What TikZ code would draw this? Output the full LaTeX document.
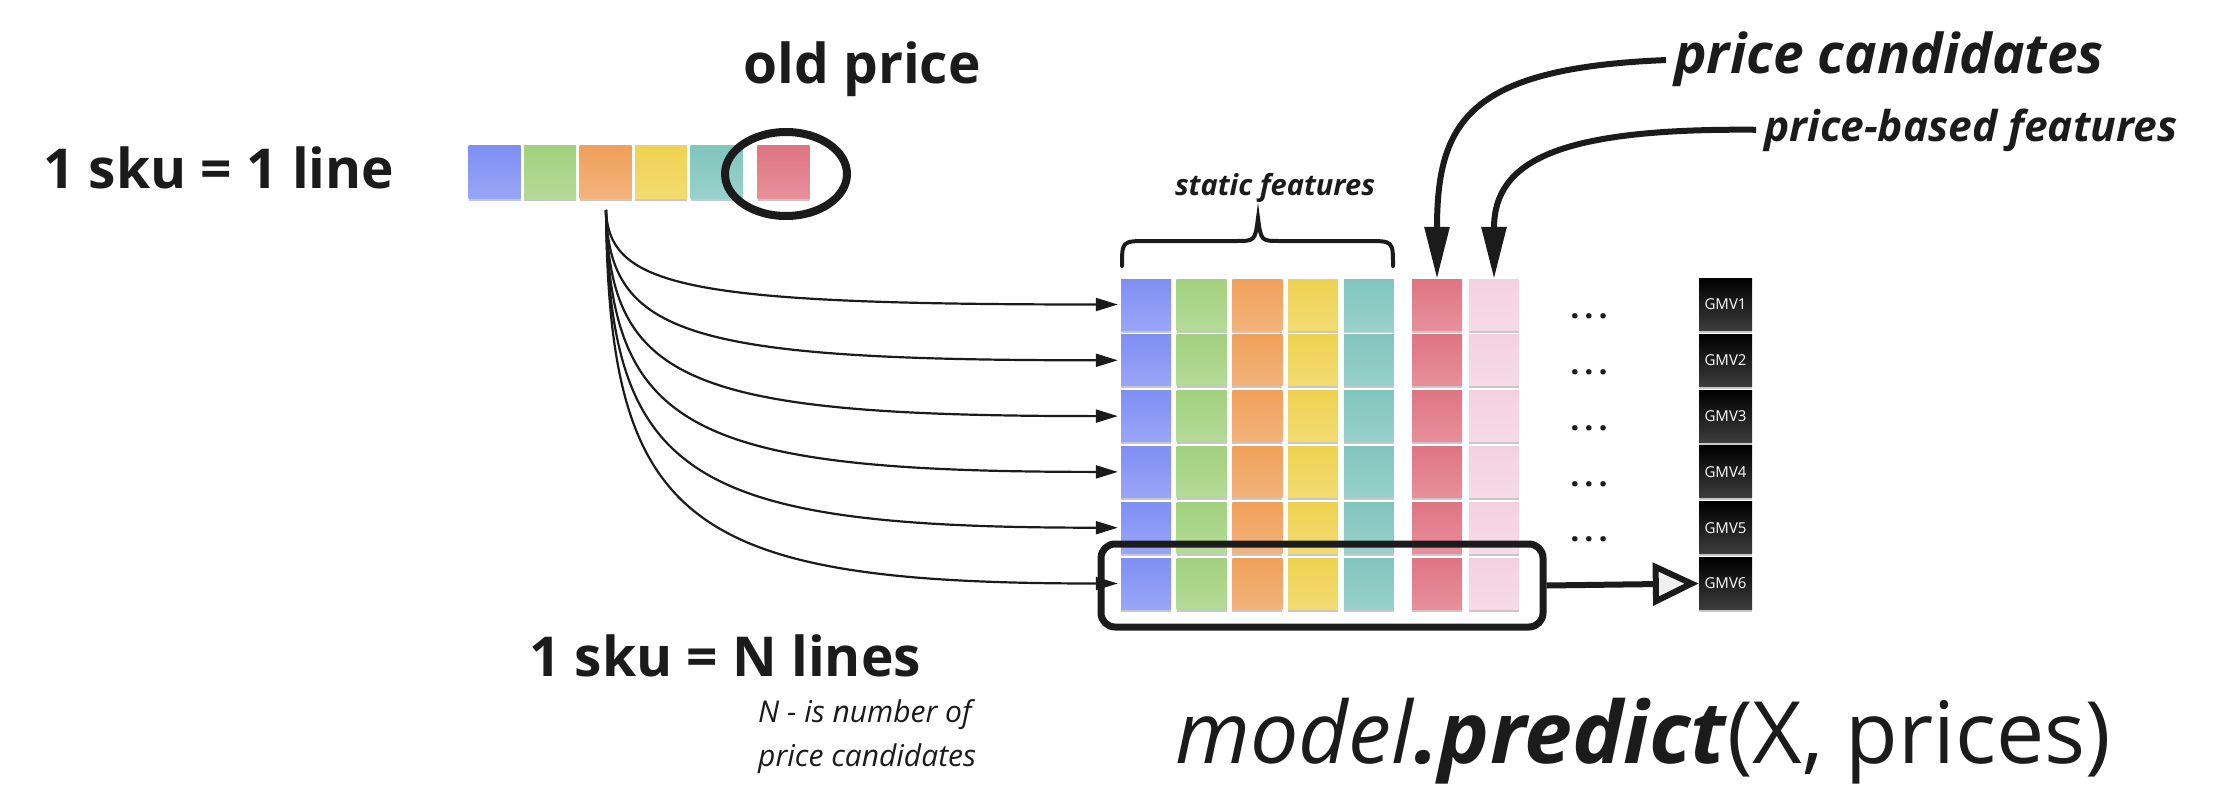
\documentclass[tikz,border=0pt]{standalone}
\usepackage{fontspec}
\setmainfont{Open Sans}
\usetikzlibrary{arrows.meta}
\usetikzlibrary{shadows}

\definecolor{nblue}{HTML}{7F8FF4}
\definecolor{ngreen}{HTML}{A2D17E}
\definecolor{norange}{HTML}{F0A05A}
\definecolor{nyellow}{HTML}{EFD250}
\definecolor{nteal}{HTML}{80C5BE}
\definecolor{nred}{HTML}{E07483}
\definecolor{npink}{HTML}{F5D1E0}
\definecolor{ink}{HTML}{1B1B1B}

\tikzset{
  note/.style={minimum width=50pt, minimum height=51pt, inner sep=0pt,
    top color=#1, bottom color=#1!80!white,
    drop shadow={shadow xshift=0pt, shadow yshift=-2.5pt, opacity=0.22, fill=black}},
  gmv/.style={minimum width=53pt, minimum height=52pt, inner sep=0pt,
    top color=black, bottom color=ink!85!white, text=white,
    font=\fontsize{15}{17}\selectfont,
    drop shadow={shadow xshift=0pt, shadow yshift=-2.5pt, opacity=0.22, fill=black}},
  head/.style={inner sep=0pt, text=ink, font=\fontsize{55}{60}\selectfont\bfseries},
  tag/.style={inner sep=0pt, text=ink, font=\fontsize{#1}{#1}\selectfont\bfseries\itshape},
  feed/.style={draw=ink, line width=2.2pt, shorten >=3pt,
    -{Triangle[length=22pt,width=13pt]}},
  pointer/.style={draw=ink, line width=6pt, shorten <=8pt,
    -{Triangle[length=52pt,width=24pt]}},
}

\begin{document}
\begin{tikzpicture}[x=1pt, y=-1pt]

  \useasboundingbox (0,0) rectangle (2234,800);

  % one line per sku
  \node[head, anchor=base west] (one) at (43,188) {1 sku = 1 line};
  \node[head, anchor=base] (old) at (862,84) {old price};

  \foreach \cl/\col in {1/nblue,2/ngreen,3/norange,4/nyellow,5/nteal}
    \node[note=\col, minimum width=52pt, minimum height=53pt] (top\cl)
      at ({494.5+55.5*(\cl-1)},171.5) {};
  \node[note=nred, minimum width=52pt, minimum height=53pt] (top6) at (783.5,171.5) {};
  \draw[ink, line width=8pt] (786,174) ellipse [x radius=61, y radius=42];

  % N lines per sku
  \foreach \rw in {1,...,6} {
    \foreach \cl/\col in {1/nblue,2/ngreen,3/norange,4/nyellow,5/nteal}
      \node[note=\col] (m\rw-\cl) at ({1146+55.7*(\cl-1)},{304.5+55.8*(\rw-1)}) {};
    \node[note=nred] (m\rw-6) at (1437,{304.5+55.8*(\rw-1)}) {};
    \node[note=npink] (m\rw-7) at (1494,{304.5+55.8*(\rw-1)}) {};
    \node[gmv] (g\rw) at (1725.5,{304.5+55.8*(\rw-1)}) {GMV\rw};
  }
  \foreach \rw in {1,...,5}
    \node[inner sep=0pt, text=ink, font=\fontsize{32}{32}\selectfont\bfseries]
      (dots\rw) at (1589,{316.5+55.8*(\rw-1)}) {.\hspace{5pt}.\hspace{5pt}.};

  \coordinate (src) at (606,210);
  \foreach \rw/\d in {1/77,2/125,3/172,4/219,5/267,6/314}
    \draw[feed] (src) .. controls +(3,\d) and +(-435,0) .. (m\rw-1.west);

  % static part
  \node[tag=29, anchor=base] (static) at (1275,195) {static features};
  \draw[ink, line width=4pt, line cap=round]
    (1122,266) .. controls (1122,241) .. (1148,241) -- (1236,241)
    .. controls (1255,241) .. (1258,218) .. controls (1261,241) .. (1280,241)
    -- (1367,241) .. controls (1393,241) .. (1393,266);

  % price columns
  \node[tag=55, anchor=base west] (cand) at (1674,74) {price candidates};
  \node[tag=42.5, anchor=base west] (pfeat) at (1764,141) {price-based features};
  \draw[pointer] (cand.west) .. controls (1470,68) and (1437,120) .. (m1-6.north);
  \draw[pointer] (pfeat.west) .. controls (1560,128) and (1494,160) .. (m1-7.north);

  % one prediction per line
  \node[draw=ink, line width=7pt, rounded corners=14pt, minimum width=442pt,
    minimum height=83pt] (sel) at (1322,585.5) {};
  \draw[ink, line width=6pt, -{Triangle[length=46pt,width=42pt,fill=gray!12]}]
    (sel.east) -- (g6.west);

  \node[head, anchor=base west] (many) at (529,676) {1 sku = N lines};
  \node[inner sep=0pt, text=ink, anchor=north west, align=left,
    font=\fontsize{30}{44}\selectfont\itshape] (nnote) at (758,699)
    {N - is number of\\price candidates};

  \node[inner sep=0pt, text=ink, anchor=base west, font=\fontsize{86}{90}\selectfont]
    (call) at (1175,763) {\textit{model}\textbf{\textit{.predict}}(X, prices)};

\end{tikzpicture}
\end{document}
